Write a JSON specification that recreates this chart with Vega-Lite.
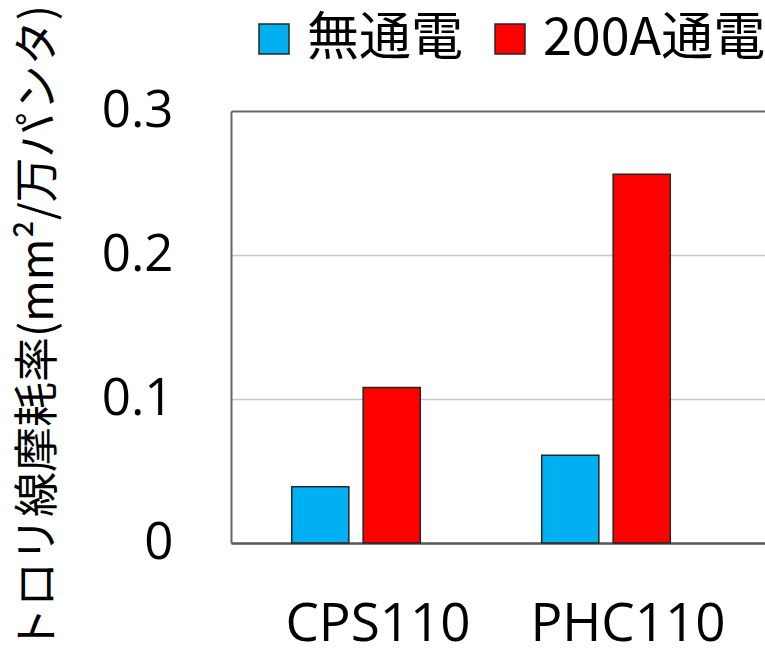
{
  "$schema": "https://vega.github.io/schema/vega-lite/v6.json",
  "autosize": "none",
  "width": 534,
  "height": 432,
  "padding": {"left": 231, "top": 111, "right": 0, "bottom": 119},
  "background": "white",
  "config": {
    "view": {"stroke": null},
    "font": "Open Sans"
  },
  "data": {
    "values": [
      {"material": "CPS110", "condition": "無通電", "wear": 0.039},
      {"material": "CPS110", "condition": "200A通電", "wear": 0.108},
      {"material": "PHC110", "condition": "無通電", "wear": 0.061},
      {"material": "PHC110", "condition": "200A通電", "wear": 0.256}
    ]
  },
  "mark": {"type": "bar", "stroke": "#262626", "strokeWidth": 1.5},
  "encoding": {
    "x": {
      "field": "material",
      "type": "nominal",
      "sort": ["CPS110", "PHC110"],
      "scale": {"paddingInner": 0, "paddingOuter": 0.068, "align": 0},
      "axis": {
        "title": null,
        "labelAngle": 0,
        "labelFont": "Open Sans",
        "labelFontSize": 53,
        "labelColor": "black",
        "labelLimit": 400,
        "labelPadding": 55,
        "labelOffset": 22,
        "ticks": false,
        "domainColor": "#595959",
        "domainWidth": 2.5,
        "grid": false
      }
    },
    "xOffset": {
      "field": "condition",
      "type": "nominal",
      "sort": ["無通電", "200A通電"],
      "scale": {"paddingInner": 0.2, "paddingOuter": 0.85}
    },
    "y": {
      "field": "wear",
      "type": "quantitative",
      "scale": {"domain": [0, 0.3], "nice": false, "zero": true},
      "axis": {
        "title": "トロリ線摩耗率(mm²/万パンタ)",
        "titleFont": "Noto Sans CJK JP",
        "titleFontSize": 45,
        "titleFontWeight": "normal",
        "titleColor": "black",
        "titleAngle": 270,
        "titleAlign": "center",
        "titleBaseline": "middle",
        "titleX": -193,
        "titleY": 217,
        "titleLimit": 800,
        "values": [0, 0.1, 0.2, 0.3],
        "format": "~g",
        "labelFont": "Open Sans",
        "labelFontSize": 51,
        "labelColor": "black",
        "labelPadding": 58,
        "ticks": false,
        "domainColor": "#666666",
        "domainWidth": 2,
        "grid": true,
        "gridColor": {"condition": {"test": "datum.value >= 0.3", "value": "#666666"}, "value": "#c8c8c8"},
        "gridWidth": {"condition": {"test": "datum.value >= 0.3", "value": 2}, "value": 1.5}
      }
    },
    "color": {
      "field": "condition",
      "type": "nominal",
      "sort": ["無通電", "200A通電"],
      "scale": {"domain": ["無通電", "200A通電"], "range": ["#00B0F0", "#FF0000"]},
      "legend": {
        "title": null,
        "orient": "none",
        "direction": "horizontal",
        "legendX": 17,
        "legendY": -98,
        "padding": 0,
        "symbolType": "square",
        "symbolSize": 900,
        "symbolStrokeColor": "#262626",
        "symbolStrokeWidth": 1.5,
        "symbolOpacity": 1,
        "labelFont": "Noto Sans CJK JP",
        "labelFontSize": 52,
        "labelColor": "black",
        "labelOffset": 7,
        "labelLimit": 400,
        "columnPadding": 20
      }
    }
  }
}
